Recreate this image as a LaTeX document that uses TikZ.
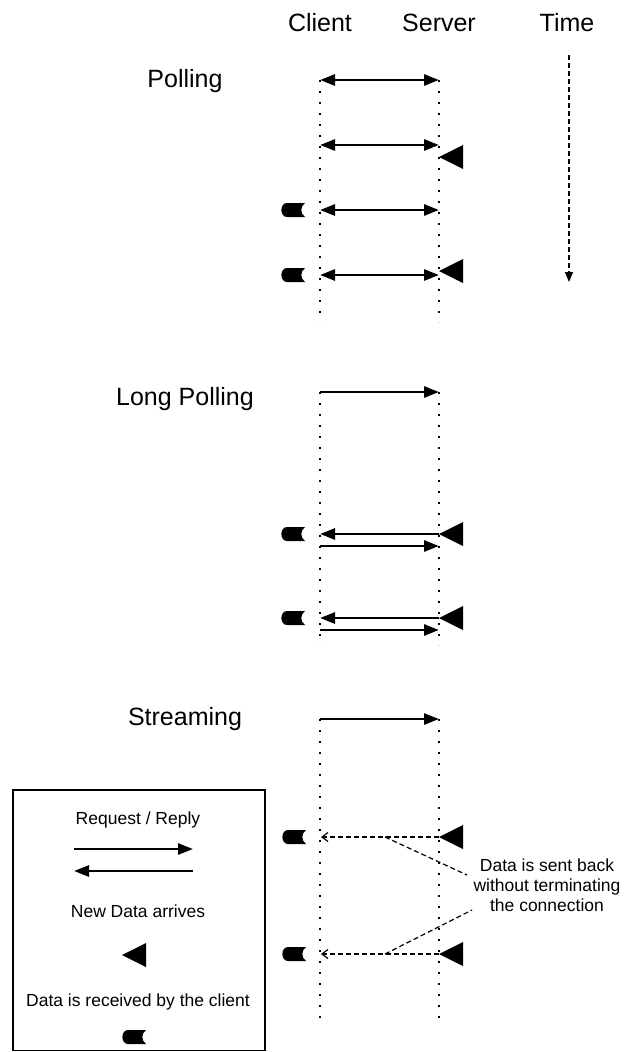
\documentclass[tikz,border=0pt]{standalone}
\usepackage{fontspec}
\setmainfont{Liberation Sans}
\usetikzlibrary{arrows.meta}
\begin{document}
\begin{tikzpicture}[x=1pt,y=-1pt,
  hdr/.style={font=\fontsize{25}{30}\selectfont, anchor=base, inner sep=0pt},
  small/.style={font=\fontsize{17.5}{20}\selectfont, anchor=base, inner sep=0pt},
  life/.style={line width=2.2pt, dash pattern=on 2.2pt off 8.8pt},
  msg/.style={line width=2.7pt, -{Triangle[length=15pt,width=11pt]}},
  both/.style={line width=2.7pt, {Triangle[length=15pt,width=11pt]}-{Triangle[length=15pt,width=11pt]}},
  push/.style={line width=1.2pt, dash pattern=on 5pt off 3pt, -{Straight Barb[length=6pt,width=9pt]}},
  lead/.style={line width=1.2pt, dash pattern=on 5pt off 3pt},
  timeline/.style={line width=1.2pt, dash pattern=on 5pt off 3pt, -{Triangle[length=10pt,width=8pt]}},
  newdata/.pic={\fill (0,0) -- (24,-12) -- (24,12) -- cycle;},
  recv/.pic={\fill (12,-7) -- (-6,-7) .. controls (-13.5,-7) and (-13.5,7) .. (-6,7) -- (12,7) .. controls (7,3) and (7,-3) .. cycle;},
]
\useasboundingbox (0,0) rectangle (629,1052);

% column headers
\node[hdr] (client) at (320,31) {Client};
\node[hdr] (server) at (439,31) {Server};
\node[hdr] (time) at (567,31) {Time};
\coordinate (t0) at (569,55);
\coordinate (t1) at (569,282);
\draw[timeline] (t0) -- (t1);

% ---------------- Polling ----------------
\node[hdr] (polling) at (185,87) {Polling};
\coordinate (pCa) at (320,80);  \coordinate (pCb) at (320,322);
\coordinate (pSa) at (439,80);  \coordinate (pSb) at (439,322);
\draw[life] (pCa) -- (pCb);
\draw[life] (pSa) -- (pSb);
\foreach \i/\y in {1/80,2/145,3/210,4/275}{
  \coordinate (pC\i) at (320,\y);
  \coordinate (pS\i) at (439,\y);
  \draw[both] (pC\i) -- (pS\i);
}
\pic at (439,157) {newdata};
\pic at (439,271) {newdata};
\pic at (293,210) {recv};
\pic at (293,275) {recv};

% ---------------- Long Polling ----------------
\node[hdr] (longpolling) at (185,405) {Long Polling};
\coordinate (lCa) at (320,392);  \coordinate (lCb) at (320,645);
\coordinate (lSa) at (439,392);  \coordinate (lSb) at (439,645);
\draw[life] (lCa) -- (lCb);
\draw[life] (lSa) -- (lSb);
\coordinate (lC0) at (320,392); \coordinate (lS0) at (439,392);
\draw[msg] (lC0) -- (lS0);
\foreach \i/\y/\z in {1/534/546,2/618/630}{
  \coordinate (lSr\i) at (439,\y);
  \coordinate (lCr\i) at (320,\y);
  \coordinate (lCq\i) at (320,\z);
  \coordinate (lSq\i) at (439,\z);
  \draw[msg] (lSr\i) -- (lCr\i);
  \draw[msg] (lCq\i) -- (lSq\i);
  \pic at (439,\y) {newdata};
  \pic at (293,\y) {recv};
}

% ---------------- Streaming ----------------
\node[hdr] (streaming) at (185,725) {Streaming};
\coordinate (sCa) at (320,719);  \coordinate (sCb) at (320,1023);
\coordinate (sSa) at (439,719);  \coordinate (sSb) at (439,1023);
\draw[life] (sCa) -- (sCb);
\draw[life] (sSa) -- (sSb);
\coordinate (sC0) at (320,719); \coordinate (sS0) at (439,719);
\draw[msg] (sC0) -- (sS0);
\foreach \i/\y in {1/837,2/954}{
  \coordinate (sS\i) at (439,\y);
  \coordinate (sC\i) at (321,\y);
  \draw[push] (sS\i) -- (sC\i);
  \pic at (439,\y) {newdata};
  \pic at (294,\y) {recv};
}
\node[align=center, font=\fontsize{17.5}{20}\selectfont, inner sep=0pt] (note) at (547,885)
  {Data is sent back\\without terminating\\the connection};
\coordinate (k1) at (385,837); \coordinate (n1) at (467,875);
\coordinate (k2) at (385,954); \coordinate (n2) at (472,910);
\draw[lead] (k1) -- (n1);
\draw[lead] (k2) -- (n2);

% ---------------- Legend ----------------
\draw[line width=1.5pt] (13,790) rectangle (265,1050.5);
\node[small] (lgReq) at (138,824) {Request / Reply};
\coordinate (ga) at (74,849);  \coordinate (gb) at (193,849);
\coordinate (gc) at (193,871); \coordinate (gd) at (74,871);
\draw[msg] (ga) -- (gb);
\draw[msg] (gc) -- (gd);
\node[small] (lgNew) at (138,917) {New Data arrives};
\pic at (122,955) {newdata};
\node[small] (lgRecv) at (138,1006) {Data is received by the client};
\pic at (134,1037) {recv};
\end{tikzpicture}
\end{document}
